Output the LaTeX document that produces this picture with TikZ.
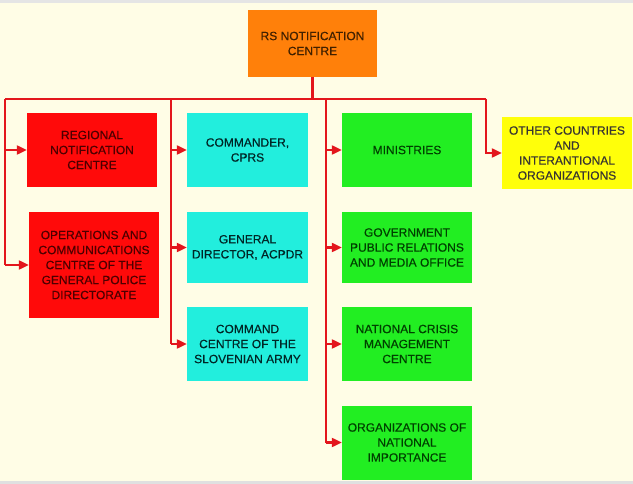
\documentclass[tikz,border=0pt]{standalone}
\usepackage{fontspec}
\setmainfont{Liberation Sans}[BoldFont=Liberation Sans, BoldFeatures={FakeBold=0.35}]
\usetikzlibrary{arrows.meta}

\definecolor{cream}{HTML}{FFFDE6}
\definecolor{linered}{HTML}{E3161C}
\definecolor{boxred}{HTML}{FF0A0A}
\definecolor{boxcyan}{HTML}{22EEDD}
\definecolor{boxgreen}{HTML}{22EE22}
\definecolor{boxyellow}{HTML}{FFFF0A}
\definecolor{boxorange}{HTML}{FF800A}

\begin{document}
\begin{tikzpicture}[x=1pt, y=-1pt,
    unit/.style={rectangle, inner sep=0pt, align=center,
      font=\fontsize{12}{15}\selectfont\bfseries, minimum width=130pt, minimum height=74pt},
    redunit/.style={unit, fill=boxred, text=red!30!black},
    cyanunit/.style={unit, fill=boxcyan, text=teal!30!black, minimum width=121pt},
    greenunit/.style={unit, fill=boxgreen, text=green!25!black},
    link/.style={draw=linered, line width=2.2pt},
    feed/.style={link, -{Triangle[length=10pt, width=9pt]}}]

      % background
      \fill[cream] (0,0) rectangle (633,484);
      \fill[black!10] (0,0) rectangle (633,3);
      \fill[black!12] (0,481) rectangle (633,484);

      \node[unit, fill=boxorange, text=orange!25!black, minimum width=129pt, minimum height=67pt]
        (top) at (312.5,43.5) {RS NOTIFICATION\\CENTRE};

      \node[redunit] (regional) at (92,150) {REGIONAL\\NOTIFICATION\\CENTRE};
      \node[redunit, minimum height=106pt] (police) at (94,265)
        {OPERATIONS AND\\COMMUNICATIONS\\CENTRE OF THE\\GENERAL POLICE\\DIRECTORATE};

      \node[cyanunit] (cprs) at (247.5,150) {COMMANDER,\\CPRS};
      \node[cyanunit, minimum height=71pt] (acpdr) at (247.5,247.5) {GENERAL\\DIRECTOR, ACPDR};
      \node[cyanunit] (army) at (247.5,344) {COMMAND\\CENTRE OF THE\\SLOVENIAN ARMY};

      \node[greenunit] (ministries) at (407,150) {MINISTRIES};
      \node[greenunit, minimum height=71pt] (media) at (407,247.5)
        {GOVERNMENT\\PUBLIC RELATIONS\\AND MEDIA OFFICE};
      \node[greenunit] (crisis) at (407,344) {NATIONAL CRISIS\\MANAGEMENT\\CENTRE};
      \node[greenunit] (national) at (407,442.5) {ORGANIZATIONS OF\\NATIONAL\\IMPORTANCE};

      \node[unit, fill=boxyellow, text=yellow!10!black, minimum height=72pt]
        (foreign) at (567,153) {OTHER COUNTRIES\\AND\\INTERANTIONAL\\ORGANIZATIONS};

      % distribution bus
      \coordinate (busL) at (5,99);
      \coordinate (busC) at (171,99);
      \coordinate (busG) at (326,99);
      \coordinate (busR) at (486,99);

      \draw[link] (top.south) -- (top.south |- busL);
      \draw[link] (busL) -- (busR);
      \draw[link] (busL) -- (busL |- police.west);
      \draw[link] (busC) -- (busC |- army.west);
      \draw[link] (busG) -- (busG |- national.west);

      \draw[feed] (busL |- regional.west) -- (regional.west);
      \draw[feed] (busL |- police.west) -- (police.west);
      \draw[feed] (busC |- cprs.west) -- (cprs.west);
      \draw[feed] (busC |- acpdr.west) -- (acpdr.west);
      \draw[feed] (busC |- army.west) -- (army.west);
      \draw[feed] (busG |- ministries.west) -- (ministries.west);
      \draw[feed] (busG |- media.west) -- (media.west);
      \draw[feed] (busG |- crisis.west) -- (crisis.west);
      \draw[feed] (busG |- national.west) -- (national.west);
      \draw[feed] (busR) |- (foreign.west);

\end{tikzpicture}
\end{document}
